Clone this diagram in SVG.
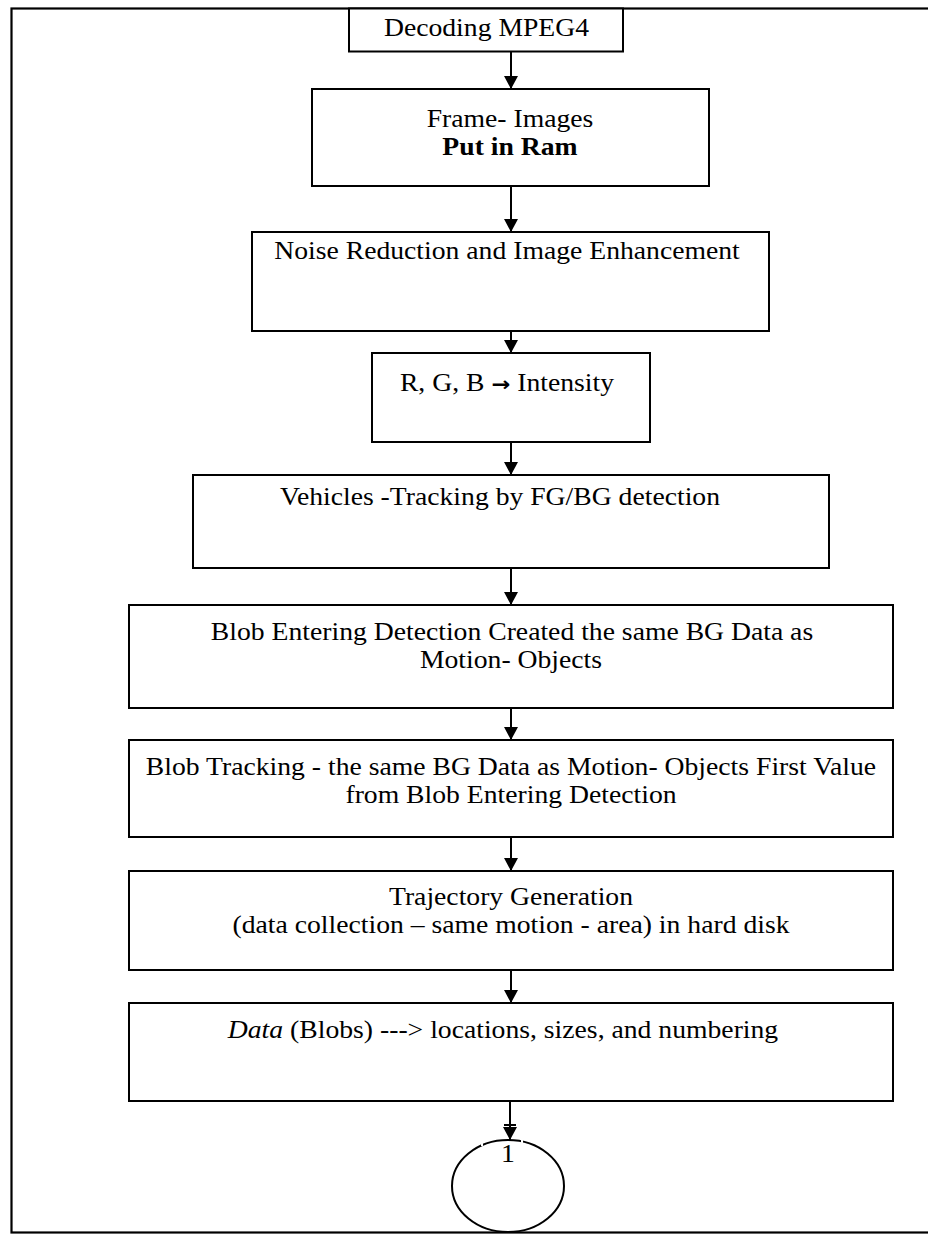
<svg xmlns="http://www.w3.org/2000/svg" width="928" height="1234" viewBox="0 0 928 1234">
  <style>
    .box { fill: #ffffff; stroke: #000000; stroke-width: 2; }
    .frame { fill: none; stroke: #000000; stroke-width: 2.2; }
    .t { font-family: "Liberation Serif", "Times New Roman", serif; font-size: 24.5px; fill: #000000; text-anchor: middle; }
    .b { font-weight: bold; }
    .edge { stroke: #000000; stroke-width: 2; fill: none; marker-end: url(#head); }
  </style>
  <defs>
    <marker id="head" markerWidth="14" markerHeight="15" refX="13" refY="7.5" orient="auto" markerUnits="userSpaceOnUse">
      <path d="M0,0.5 L13,7.5 L0,14.5 Z" fill="#000000"/>
    </marker>
  </defs>

  <rect width="928" height="1234" fill="#ffffff"/>
  <!-- page frame, open to the right -->
  <rect class="frame" x="11.5" y="8.5" width="940" height="1224"/>

  <g id="connectors">
    <line class="edge" x1="511" y1="52" x2="511" y2="89"/>
    <line class="edge" x1="511" y1="186" x2="511" y2="232"/>
    <line class="edge" x1="511" y1="331" x2="511" y2="353"/>
    <line class="edge" x1="511" y1="442" x2="511" y2="475"/>
    <line class="edge" x1="511" y1="568" x2="511" y2="605"/>
    <line class="edge" x1="511" y1="708" x2="511" y2="740"/>
    <line class="edge" x1="511" y1="837" x2="511" y2="871"/>
    <line class="edge" x1="511" y1="970" x2="511" y2="1003"/>
    <line class="edge" x1="510" y1="1101" x2="510" y2="1140"/>
    <line x1="504" y1="1125" x2="516" y2="1125" stroke="#000000" stroke-width="2"/>
  </g>

  <!-- text is widened horizontally by 1.13 around its centre x -->
  <g id="decode">
    <rect class="box" x="349" y="8.5" width="274" height="43"/>
    <text class="t" transform="matrix(1.13 0 0 1 486.5 0)" x="0" y="36">Decoding MPEG4</text>
  </g>

  <g id="frames">
    <rect class="box" x="312" y="89" width="397" height="97"/>
    <text class="t" transform="matrix(1.13 0 0 1 510 0)" x="0" y="127">Frame- Images</text>
    <text class="t b" transform="matrix(1.13 0 0 1 510 0)" x="0" y="155">Put in Ram</text>
  </g>

  <g id="noise">
    <rect class="box" x="252" y="232" width="517" height="99"/>
    <text class="t" transform="matrix(1.13 0 0 1 507 0)" x="0" y="259">Noise Reduction and Image Enhancement</text>
  </g>

  <g id="intensity">
    <rect class="box" x="372" y="353" width="278" height="89"/>
    <text class="t" transform="matrix(1.13 0 0 1 507 0)" x="0" y="391">R, G, B <tspan font-family="DejaVu Sans, sans-serif" font-weight="bold" font-size="20">→</tspan> Intensity</text>
  </g>

  <g id="vehicles">
    <rect class="box" x="193" y="475" width="636" height="93"/>
    <text class="t" transform="matrix(1.13 0 0 1 500 0)" x="0" y="505">Vehicles -Tracking by FG/BG detection</text>
  </g>

  <g id="blob-entering">
    <rect class="box" x="129" y="605" width="764" height="103"/>
    <text class="t" transform="matrix(1.13 0 0 1 512 0)" x="0" y="640">Blob Entering Detection Created the same BG Data as</text>
    <text class="t" transform="matrix(1.13 0 0 1 511 0)" x="0" y="668">Motion- Objects</text>
  </g>

  <g id="blob-tracking">
    <rect class="box" x="129" y="740" width="764" height="97"/>
    <text class="t" transform="matrix(1.13 0 0 1 511 0)" x="0" y="775">Blob Tracking - the same BG Data as Motion- Objects First Value</text>
    <text class="t" transform="matrix(1.13 0 0 1 511 0)" x="0" y="803">from Blob Entering Detection</text>
  </g>

  <g id="trajectory">
    <rect class="box" x="129" y="871" width="764" height="99"/>
    <text class="t" transform="matrix(1.13 0 0 1 511 0)" x="0" y="905">Trajectory Generation</text>
    <text class="t" transform="matrix(1.13 0 0 1 511 0)" x="0" y="933">(data collection – same motion - area) in hard disk</text>
  </g>

  <g id="data">
    <rect class="box" x="129" y="1003" width="764" height="98"/>
    <text class="t" transform="matrix(1.13 0 0 1 503 0)" x="0" y="1038"><tspan font-style="italic">Data</tspan> (Blobs) ---&gt; locations, sizes, and numbering</text>
  </g>

  <g id="connector-1">
    <ellipse cx="508" cy="1186" rx="56" ry="46" fill="none" stroke="#000000" stroke-width="2"/>
    <rect x="481" y="1136" width="2" height="10" fill="#ffffff"/>
    <rect x="521" y="1136" width="2" height="10" fill="#ffffff"/>
    <text class="t" transform="matrix(1.13 0 0 1 508 0)" x="0" y="1162">1</text>
  </g>
</svg>
